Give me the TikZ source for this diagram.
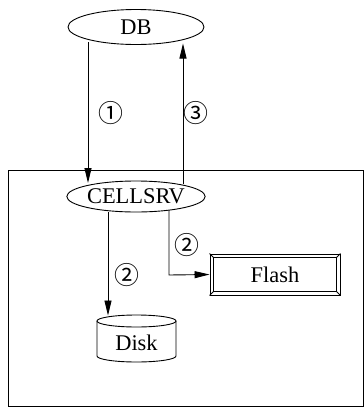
\documentclass[tikz,border=0pt]{standalone}
\usepackage{fontspec}
\setmainfont{Liberation Serif}
\newfontfamily\circfont{Noto Sans CJK SC}
\usetikzlibrary{arrows.meta,shapes.geometric}
\begin{document}
\begin{tikzpicture}[x=1bp,y=-1bp,line width=0.9bp,
  every node/.style={font=\fontsize{22.5}{24}\selectfont},
  ell/.style={draw,ellipse,minimum width=136bp,minimum height=#1,inner sep=0pt},
  num/.style={font=\circfont\fontsize{25}{27}\selectfont,inner sep=0pt},
  arr/.style={-{Triangle[length=15bp,width=7bp]}}]
\useasboundingbox (0,0) rectangle (364,407);
\draw (8,170) rectangle (363.5,406);
\node[ell=35bp] (db) at (136,27) {DB};
\node[ell=31bp] (cell) at (136,196.5) {CELLSRV};
% Flash beveled box
\node[draw,minimum width=130bp,minimum height=41bp,inner sep=0pt] (flash) at (275,274.5) {Flash};
\draw ([shift={(4,4)}]flash.north west) rectangle ([shift={(-4,-4)}]flash.south east);
\draw (flash.north west) -- ++(4,4) (flash.north east) -- ++(-4,4)
      (flash.south west) -- ++(4,-4) (flash.south east) -- ++(-4,-4);
% Disk cylinder
\draw (97,321) -- (97,356) arc[start angle=180,end angle=0,x radius=39.5,y radius=6] -- (176,321);
\draw (136.5,321) ellipse[x radius=39.5,y radius=6];
\node[inner sep=0pt,minimum width=79bp,minimum height=47bp] (disk) at (136.5,338.5) {};
\node at (136.5,343) {Disk};
% connectors
\draw[arr] (88,42) -- (88,183);
\draw[arr] (183,184) -- (183,43.5);
\draw[arr] (108,211.5) -- (108,315.5);
\draw[arr] (169,210) -- (169,275) -- (flash.west);
\node[num] at (111,113) {①};
\node[num] at (196,113) {③};
\node[num] at (127,275) {②};
\node[num] at (187,245) {②};
\end{tikzpicture}
\end{document}
